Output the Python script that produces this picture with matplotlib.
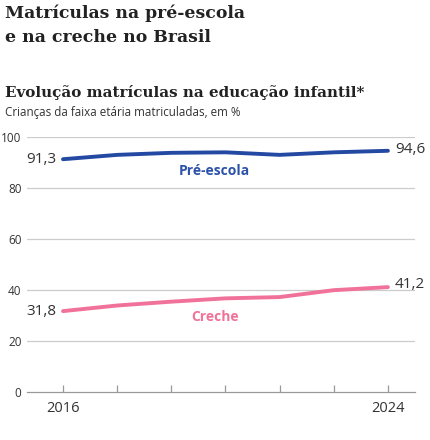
import numpy as np
import matplotlib
matplotlib.use("Agg")
import matplotlib.pyplot as plt

# data (7 evenly spaced points, 2016..2024)
years = ["2016", "", "", "", "", "", "2024"]
pre_escola = [91.3, 93.0, 93.8, 94.0, 93.0, 94.0, 94.6]
creche = [31.8, 34.0, 35.5, 36.8, 37.3, 40.0, 41.2]
yticks = [0, 20, 40, 60, 80, 100]

blue = "#2449a3"
pink = "#f0729b"
grey_txt = "#333333"
sans = "Open Sans"
serif = "DejaVu Serif"

W, H = 430, 440
fig = plt.figure(figsize=(W / 100, H / 100), dpi=100)
fig.patch.set_facecolor("white")

# axes placed in pixel terms
left, right = 27, 415
top, bottom = 137, 392.3
ax = fig.add_axes([left / W, 1 - bottom / H, (right - left) / W, (bottom - top) / H])

x = np.arange(len(years))
ax.plot(x, pre_escola, color=blue, lw=2.8, solid_capstyle="round", solid_joinstyle="round", zorder=3)
ax.plot(x, creche, color=pink, lw=2.8, solid_capstyle="round", solid_joinstyle="round", zorder=3)

ax.set_xlim(-0.665, 6.5)
ax.set_ylim(0, 100)

for s in ["top", "right", "left"]:
    ax.spines[s].set_visible(False)
ax.spines["bottom"].set_color("#999999")
ax.spines["bottom"].set_linewidth(0.9)

ax.set_yticks(yticks)
ax.set_yticklabels([str(v) for v in yticks], fontsize=8.5, color=grey_txt, family=sans)
ax.tick_params(axis="y", length=0, pad=4)
for v in yticks[1:]:
    ax.axhline(v, color="#cccccc", lw=0.9, zorder=1)

ax.set_xticks(x)
ax.set_xticklabels(years, fontsize=10.5, color=grey_txt, family=sans)
ax.tick_params(axis="x", direction="in", length=5, color="#999999", width=0.9, pad=6)

# end labels
lab = dict(fontsize=11, color=grey_txt, family=sans, va="center")
ax.annotate(f"{pre_escola[0]:.1f}".replace(".", ","), (x[0], pre_escola[0]), xytext=(-5, 0),
            textcoords="offset points", ha="right", **lab)
ax.annotate(f"{pre_escola[-1]:.1f}".replace(".", ","), (x[-1], pre_escola[-1]), xytext=(5, 1),
            textcoords="offset points", ha="left", **lab)
ax.annotate(f"{creche[0]:.1f}".replace(".", ","), (x[0], creche[0]), xytext=(-5, 0),
            textcoords="offset points", ha="right", **lab)
ax.annotate(f"{creche[-1]:.1f}".replace(".", ","), (x[-1], creche[-1]), xytext=(5, 2),
            textcoords="offset points", ha="left", **lab)

# series names
ax.text(2.8, 86.5, "Pré-escola", color="#2c52aa", fontsize=10, fontweight="bold", family=sans,
        ha="center", va="center")
ax.text(2.8, 29.3, "Creche", color=pink, fontsize=10, fontweight="bold", family=sans,
        ha="center", va="center")

# titles
fig.text(5 / W, 1 - 18 / H, "Matrículas na pré-escola", fontsize=12.4, fontweight="bold",
         family=serif, color="#222222", va="baseline")
fig.text(5 / W, 1 - 42 / H, "e na creche no Brasil", fontsize=12.4, fontweight="bold",
         family=serif, color="#222222", va="baseline")
fig.text(5 / W, 1 - 97 / H, "Evolução matrículas na educação infantil*", fontsize=10.9,
         fontweight="bold", family=serif, color="#222222", va="baseline")
fig.text(5 / W, 1 - 116 / H, "Crianças da faixa etária matriculadas, em %", fontsize=8.4,
         family=sans, color=grey_txt, va="baseline")

fig.savefig("out.png", dpi=100, facecolor="white")
